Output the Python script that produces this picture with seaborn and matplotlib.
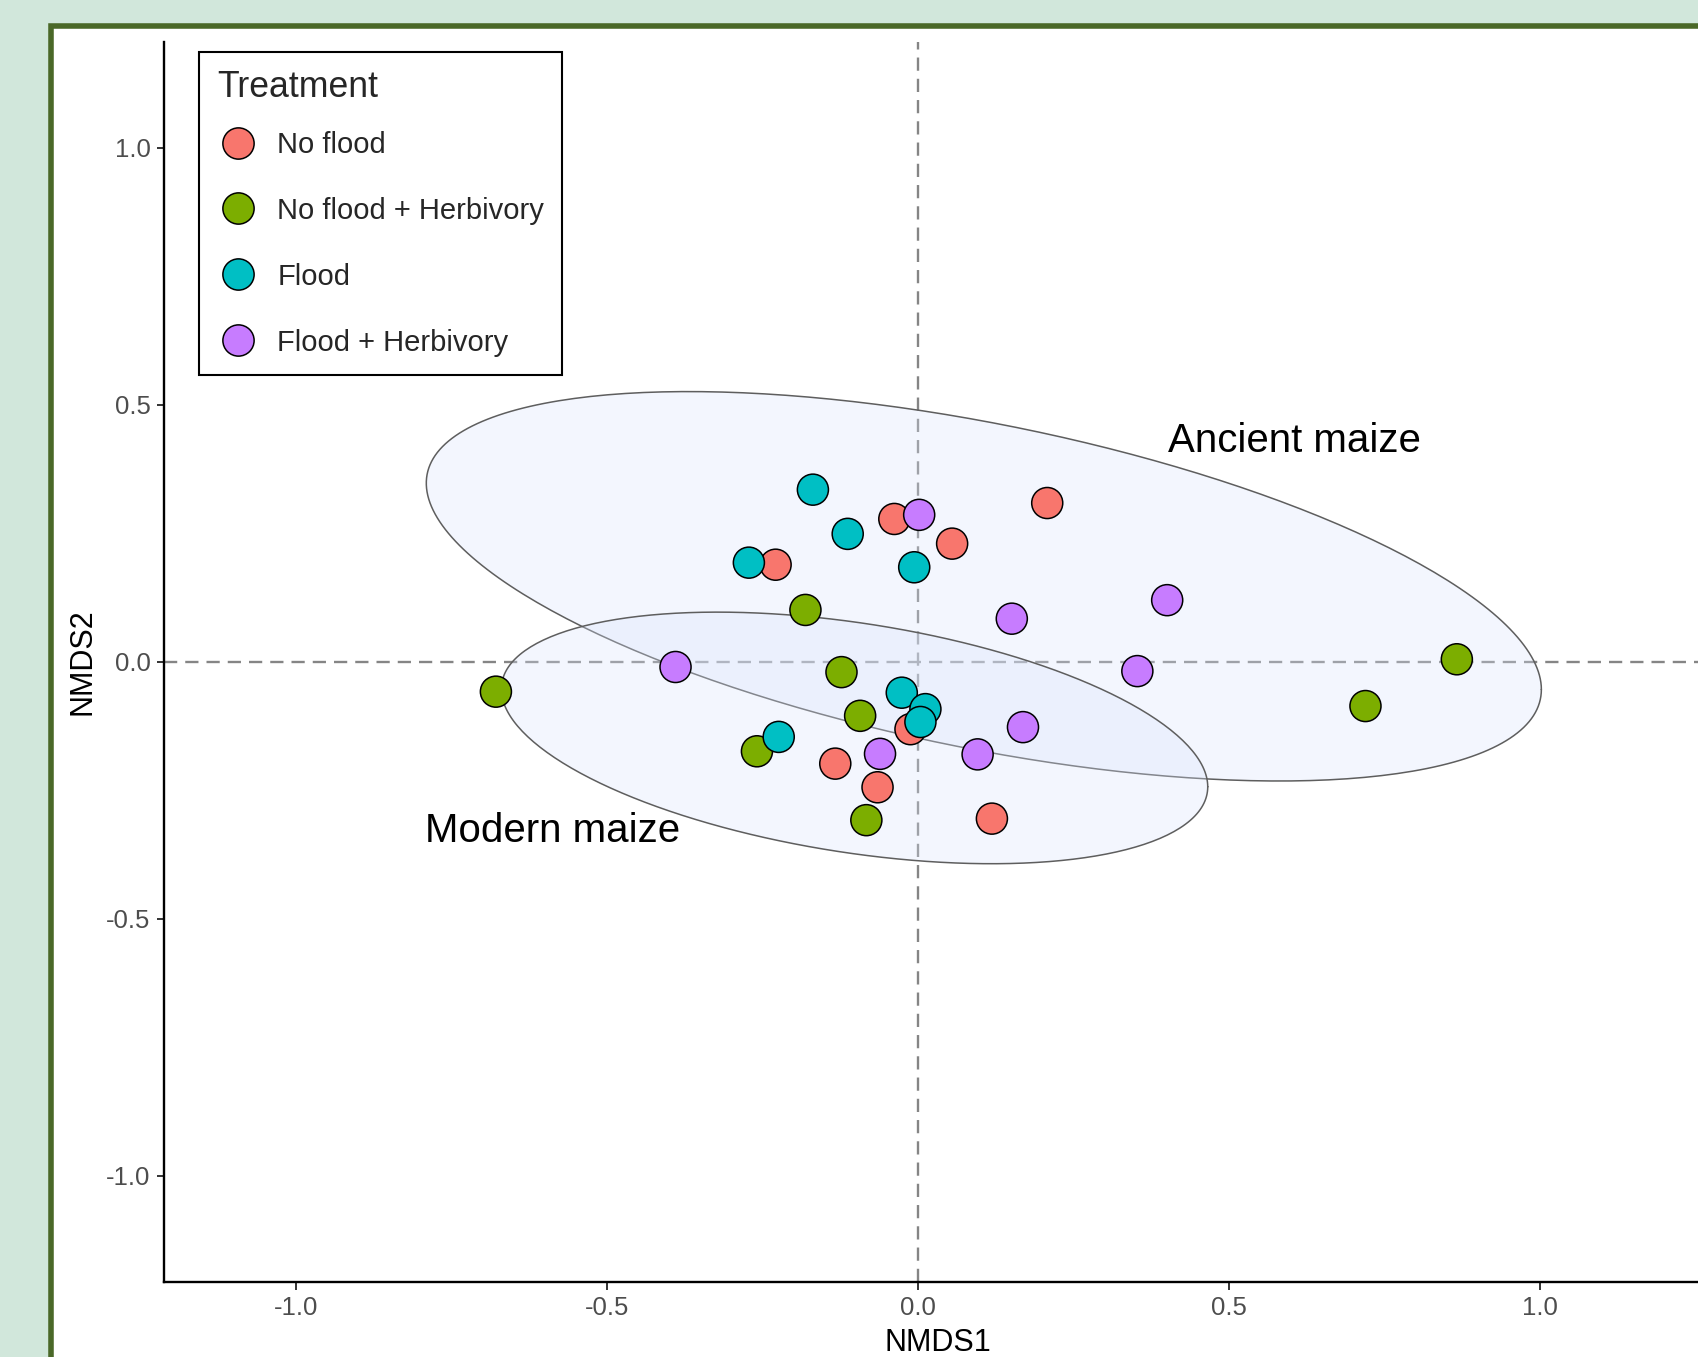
import numpy as np
import pandas as pd
import matplotlib
matplotlib.use("Agg")
import matplotlib.pyplot as plt
from matplotlib.patches import Rectangle
from matplotlib.lines import Line2D
import seaborn as sns

# treatments and ggplot default hue colours
treatments = ["No flood", "No flood + Herbivory", "Flood", "Flood + Herbivory"]
colors = ["#F8766D", "#7CAE00", "#00BFC4", "#C77CFF"]

# NMDS scores
no_flood_x = [-0.038, 0.208, 0.055, -0.229, -0.012, -0.133, -0.065, 0.119]
no_flood_y = [0.278, 0.309, 0.230, 0.189, -0.131, -0.198, -0.244, -0.305]
herb_x = [-0.181, -0.123, -0.093, -0.259, -0.083, -0.679, 0.720, 0.867]
herb_y = [0.101, -0.020, -0.105, -0.174, -0.308, -0.058, -0.086, 0.005]
flood_x = [-0.169, -0.113, -0.272, -0.006, -0.026, 0.012, 0.004, -0.224]
flood_y = [0.335, 0.249, 0.193, 0.184, -0.060, -0.092, -0.117, -0.146]
flood_herb_x = [0.002, 0.151, 0.353, 0.169, -0.061, 0.096, 0.401, -0.390]
flood_herb_y = [0.286, 0.084, -0.018, -0.127, -0.179, -0.180, 0.120, -0.010]

# maize group ellipses: centre and shape matrix, plus label positions
groups = ["Ancient maize", "Modern maize"]
ell_center = [(0.106, 0.147), (-0.102, -0.148)]
ell_shape = [[[0.8046, -0.180], [-0.180, 0.1435]],
             [[0.3229, -0.054], [-0.054, 0.0599]]]
group_label_xy = [(0.606, 0.429), (-0.588, -0.330)]

xs = [no_flood_x, herb_x, flood_x, flood_herb_x]
ys = [no_flood_y, herb_y, flood_y, flood_herb_y]
df = pd.DataFrame({
    "NMDS1": sum(xs, []),
    "NMDS2": sum(ys, []),
    "Treatment": sum([[t] * len(x) for t, x in zip(treatments, xs)], []),
})

sns.set_style("ticks")
plt.rcParams["font.family"] = ["Liberation Sans", "DejaVu Sans"]
plt.rcParams["axes.unicode_minus"] = False

W, H = 1698, 1357
fig = plt.figure(figsize=(W / 100, H / 100), dpi=100, facecolor="#D1E7DB")
# white panel with dark green frame (cropped on the right and bottom)
fig.add_artist(Rectangle((50.5 / W, -0.2), 2.0, 1 - 25.5 / H + 0.2,
                         transform=fig.transFigure, facecolor="white",
                         edgecolor="#4A6828", linewidth=4.0, zorder=-5))

ax = fig.add_axes([164.3 / W, 1 - 1282 / H, 1548 / W, (1282 - 41.7) / H])
ax.set_facecolor("white")

ax.axhline(0, color="#858585", lw=1.7, ls=(0, (5.6, 3.4)), zorder=1)
ax.axvline(0, color="#858585", lw=1.7, ls=(0, (5.6, 3.4)), zorder=1)

t = np.linspace(0, 2 * np.pi, 300)
for c, S, name, lxy in zip(ell_center, ell_shape, groups, group_label_xy):
    L = np.linalg.cholesky(np.array(S))
    pts = np.array(c)[:, None] + L @ np.vstack([np.cos(t), np.sin(t)])
    ax.fill(pts[0], pts[1], facecolor="#DAE4FC", alpha=0.3, edgecolor="none", zorder=2)
    ax.plot(pts[0], pts[1], color="#5E5E5E", lw=1.1, zorder=2)
    ax.text(lxy[0], lxy[1], name, fontsize=29, ha="center", va="center",
            color="black", zorder=4)

sns.scatterplot(data=df, x="NMDS1", y="NMDS2", hue="Treatment",
                hue_order=treatments, palette=colors, s=500,
                edgecolor="black", linewidth=1.1, legend=False, ax=ax, zorder=3)

ax.set_xlim(-1.2125, 1.278)
ax.set_ylim(-1.2065, 1.2065)
ticks = [-1.0, -0.5, 0.0, 0.5, 1.0]
ax.set_xticks(ticks, [f"{v:.1f}" for v in ticks])
ax.set_yticks(ticks, [f"{v:.1f}" for v in ticks])
ax.tick_params(length=5.4, width=1.4, color="#333333", labelcolor="#4D4D4D",
               labelsize=18.5, pad=4.5)
ax.set_xlabel("NMDS1", fontsize=22, color="black", labelpad=6)
ax.set_ylabel("NMDS2", fontsize=22, color="black", labelpad=6)
sns.despine(ax=ax)
for side in ["left", "bottom"]:
    ax.spines[side].set_linewidth(1.7)
    ax.spines[side].set_color("black")

handles = [Line2D([], [], ls="none", marker="o", markersize=22.5,
                  markerfacecolor=col, markeredgecolor="black",
                  markeredgewidth=1.1) for col in colors]
leg = fig.legend(handles, treatments, title="Treatment", loc="upper left",
                 bbox_to_anchor=(199 / W, 1 - 52 / H), borderaxespad=0,
                 fontsize=21, title_fontsize=25.7, frameon=True, fancybox=False,
                 edgecolor="black", framealpha=1, borderpad=0.62,
                 handlelength=1.45, handletextpad=0.62, labelspacing=1.30,
                 alignment="left")
leg.get_frame().set_linewidth(1.5)
# tighter gap between the legend title and the first entry
leg._legend_box.sep = 18.5

fig.savefig("out.png", dpi=100, facecolor=fig.get_facecolor())
